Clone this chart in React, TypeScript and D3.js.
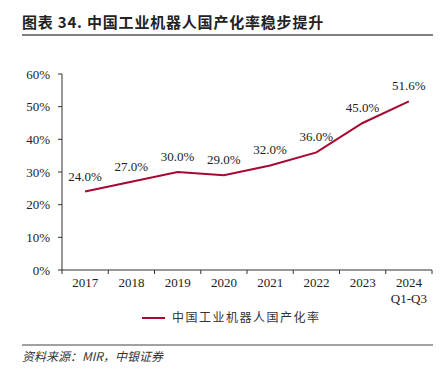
import React from "react";
import * as d3 from "d3";

const categories = ["2017", "2018", "2019", "2020", "2021", "2022", "2023", "2024\nQ1-Q3"];
const rateValues = [24.0, 27.0, 30.0, 29.0, 32.0, 36.0, 45.0, 51.6];
const yTicks = [0, 10, 20, 30, 40, 50, 60];
const seriesName = "中国工业机器人国产化率";
const titleText = "图表 34. 中国工业机器人国产化率稳步提升";
const sourceText = "资料来源：MIR，中银证券";

const W = 441;
const H = 369;
const plot = { left: 62, right: 432, top: 74, bottom: 270 };
const lineColor = "#A8072F";
const serif = "Liberation Serif, Times New Roman, DejaVu Serif, serif";
const cjk = "Noto Sans CJK SC, sans-serif";

export default function App() {
  const x = d3.scaleBand<string>().domain(categories).range([plot.left, plot.right]).padding(0);
  const y = d3.scaleLinear().domain([0, 60]).range([plot.bottom, plot.top]);
  const cx = (c: string) => (x(c) ?? 0) + x.bandwidth() / 2;
  const line = d3
    .line<number>()
    .x((_, i) => cx(categories[i]))
    .y((d) => y(d));
  const boundaries = categories.map((c) => x(c) ?? 0).concat([plot.right]);
  const serifStyle = { fontFamily: serif, fontSize: "13px" };

  return (
    <svg width={W} height={H} style={{ position: "absolute", left: 0, top: 0, background: "#fff" }}>
      <rect x={0} y={0} width={W} height={H} fill="#fff" />
      {/* title */}
      <text x={22} y={28} style={{ fontFamily: cjk, fontWeight: 700, fontSize: "15px", letterSpacing: "0.8px" }} fill="#222">
        {titleText}
      </text>
      <line x1={22} x2={433} y1={35} y2={35} stroke="#555" strokeWidth={1.5} />

      {/* y axis */}
      <line x1={plot.left} x2={plot.left} y1={plot.top} y2={plot.bottom} stroke="#333" strokeWidth={1} />
      {yTicks.map((t) => (
        <g key={t}>
          <line x1={plot.left - 4} x2={plot.left} y1={y(t)} y2={y(t)} stroke="#333" />
          <text x={50} y={y(t)} dy="0.35em" textAnchor="end" style={serifStyle} fill="#222">
            {t}%
          </text>
        </g>
      ))}

      {/* x axis */}
      <line x1={plot.left} x2={plot.right} y1={plot.bottom} y2={plot.bottom} stroke="#333" strokeWidth={1} />
      {boundaries.map((b, i) => (
        <line key={i} x1={b} x2={b} y1={plot.bottom} y2={plot.bottom + 4} stroke="#333" />
      ))}
      {categories.map((c) => (
        <text key={c} x={cx(c)} y={287} textAnchor="middle" style={serifStyle} fill="#222">
          {c.split("\n").map((part, i) => (
            <tspan key={i} x={cx(c)} dy={i === 0 ? 0 : 16}>
              {part}
            </tspan>
          ))}
        </text>
      ))}

      {/* line */}
      <path d={line(rateValues) ?? ""} fill="none" stroke={lineColor} strokeWidth={2} />
      {rateValues.map((v, i) => (
        <text key={i} x={cx(categories[i])} y={y(v) - 11} textAnchor="middle" style={serifStyle} fill="#222">
          {v.toFixed(1)}%
        </text>
      ))}

      {/* legend */}
      <line x1={142} x2={165} y1={318} y2={318} stroke={lineColor} strokeWidth={2} />
      <text x={172} y={318} dy="0.35em" style={{ fontFamily: cjk, fontSize: "12px", letterSpacing: "1.5px" }} fill="#333">
        {seriesName}
      </text>

      {/* footer */}
      <line x1={22} x2={433} y1={345} y2={345} stroke="#444" strokeWidth={1.2} />
      <text x={22} y={361} style={{ fontFamily: cjk, fontStyle: "italic", fontSize: "12px" }} fill="#333">
        {sourceText}
      </text>
    </svg>
  );
}
